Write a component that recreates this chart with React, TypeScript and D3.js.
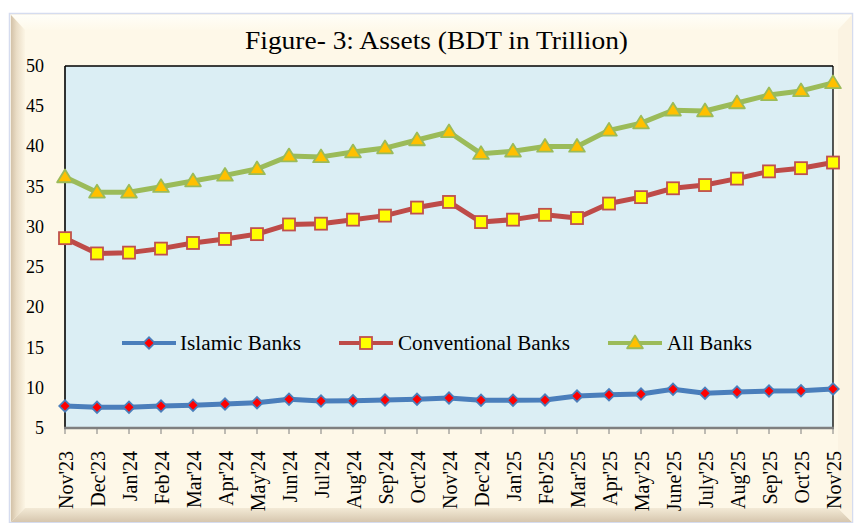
import React from "react";
import * as d3 from "d3";

const months = ["Nov'23","Dec'23","Jan'24","Feb'24","Mar'24","Apr'24","May'24","Jun'24","Jul'24","Aug'24","Sep'24","Oct'24","Nov'24","Dec'24","Jan'25","Feb'25","Mar'25","Apr'25","May'25","June'25","July'25","Aug'25","Sep'25","Oct'25","Nov'25"];
const islamic = [7.73,7.57,7.57,7.73,7.82,7.98,8.15,8.57,8.36,8.39,8.48,8.57,8.73,8.44,8.44,8.48,8.98,9.14,9.23,9.81,9.31,9.48,9.6,9.64,9.85];
const conventional = [28.6,26.7,26.8,27.3,28.0,28.5,29.1,30.3,30.4,30.9,31.4,32.4,33.1,30.6,30.9,31.5,31.1,32.9,33.7,34.8,35.2,36.0,36.9,37.3,38.0];
const allBanks = [36.2,34.3,34.3,35.0,35.7,36.4,37.2,38.8,38.7,39.3,39.8,40.8,41.8,39.1,39.4,40.0,40.0,42.0,42.9,44.5,44.4,45.4,46.4,46.9,47.9];
const yTicks = [5,10,15,20,25,30,35,40,45,50];
const title = "Figure- 3: Assets (BDT in Trillion)";
const seriesNames = ["Islamic Banks","Conventional Banks","All Banks"];

const W = 854, H = 523;
const L = 65, R = 833, T = 66, B = 428;
const FONT = "'Liberation Serif', 'Times New Roman', serif";

export default function App() {
  const x = d3.scalePoint<string>().domain(months).range([L, R]);
  const y = d3.scaleLinear().domain([5, 50]).range([B, T]);
  const line = d3.line<number>().x((_, i) => x(months[i]) as number).y(d => y(d));

  const diamond = (cx: number, cy: number, r: number) =>
    `M${cx},${cy - r}L${cx + r},${cy}L${cx},${cy + r}L${cx - r},${cy}Z`;
  const tri = (cx: number, cy: number, r: number) =>
    `M${cx},${cy - r}L${cx + r * 1.05},${cy + r * 0.7}L${cx - r * 1.05},${cy + r * 0.7}Z`;

  const legend = [
    { name: seriesNames[0], x0: 122, w: 54, tx: 180, tl: 121, color: "#4A7EBB", kind: "d" },
    { name: seriesNames[1], x0: 339, w: 54, tx: 398, tl: 172, color: "#BE4B48", kind: "s" },
    { name: seriesNames[2], x0: 608, w: 54, tx: 667, tl: 85, color: "#9BBB59", kind: "t" },
  ];
  const ly = 343;

  const marker = (kind: string, cx: number, cy: number, key: any) => {
    if (kind === "d") {
      return (
        <g key={key}>
          <path d={diamond(cx, cy, 7)} fill="#4A7EBB" />
          <path d={diamond(cx, cy, 4.5)} fill="#FF0000" />
        </g>
      );
    }
    if (kind === "s") {
      const s = 12;
      return <rect key={key} x={cx - s / 2} y={cy - s / 2} width={s} height={s} fill="#FFFF00" stroke="#C0504D" strokeWidth={1.8} />;
    }
    return <path key={key} d={tri(cx, cy, 7.5)} fill="#FFC000" stroke="#9BBB59" strokeWidth={1.8} strokeLinejoin="round" />;
  };

  return (
    <div style={{ position: "fixed", left: 0, top: 0 }}>
      <svg width={W} height={H} viewBox={`0 0 ${W} ${H}`} style={{ display: "block", background: "#fff" }}>
        <defs>
          <linearGradient id="gl" x1="0" y1="0" x2="1" y2="0">
            <stop offset="0" stopColor="#D3C2A8" />
            <stop offset="0.4" stopColor="#EADDC6" />
            <stop offset="1" stopColor="#FCF5E4" />
          </linearGradient>
          <linearGradient id="gb" x1="0" y1="0" x2="0" y2="1">
            <stop offset="0" stopColor="#F3EAD6" />
            <stop offset="1" stopColor="#D6C6AE" />
          </linearGradient>
          <linearGradient id="gt" x1="0" y1="0" x2="0" y2="1">
            <stop offset="0" stopColor="#FFFEF8" />
            <stop offset="1" stopColor="#FEF9EA" />
          </linearGradient>
        </defs>
        {/* frame */}
        <rect x={9.5} y={13.5} width={843} height={509} fill="#FEF8E8" stroke="#D5DCEF" strokeWidth={1.5} />
        <path d={`M11,15L852,15L838,30L25,30Z`} fill="url(#gt)" />
        <path d={`M11,15L25,30L25,508L11,522Z`} fill="url(#gl)" />
        <path d={`M11,522L25,508L838,508L852,522Z`} fill="url(#gb)" />
        <path d={`M852,15L852,522L838,508L838,30Z`} fill="#FBF3E2" />
        <rect x={25} y={30} width={813} height={478} fill="#FEF8E8" />

        {/* title */}
        <text x={245} y={48.5} textLength={383} lengthAdjust="spacingAndGlyphs" fontFamily={FONT} fontSize={25.5} fill="#000">{title}</text>

        {/* plot area */}
        <rect x={L} y={T} width={R - L} height={B - T} fill="#DBEEF4" />
        <line x1={L} y1={T} x2={R} y2={T} stroke="#000" strokeWidth={1.3} />
        <line x1={R} y1={T} x2={R} y2={B} stroke="#000" strokeWidth={1.3} />
        <line x1={L} y1={T} x2={L} y2={B} stroke="#000" strokeWidth={1.6} />
        <line x1={L - 1} y1={B} x2={R + 1} y2={B} stroke="#7F7F7F" strokeWidth={2.5} />
        {months.map(m => (
          <line key={m} x1={x(m)} x2={x(m)} y1={B} y2={B + 6} stroke="#7F7F7F" strokeWidth={1} />
        ))}

        {/* y ticks */}
        {yTicks.map(t => (
          <text key={t} x={44} y={y(t) + 6} textAnchor="end" fontFamily={FONT} fontSize={18} fill="#000">{t}</text>
        ))}
        {/* x labels */}
        {months.map(m => (
          <text key={m} transform={`translate(${(x(m) as number) + 7.5},${451}) rotate(-90)`} textAnchor="end"
            fontFamily={FONT} fontSize={20} fill="#000">{m}</text>
        ))}

        {/* series */}
        <path d={line(allBanks) || ""} fill="none" stroke="#9BBB59" strokeWidth={5} strokeLinejoin="round" />
        <path d={line(conventional) || ""} fill="none" stroke="#BE4B48" strokeWidth={5} strokeLinejoin="round" />
        <path d={line(islamic) || ""} fill="none" stroke="#4A7EBB" strokeWidth={5} strokeLinejoin="round" />
        {allBanks.map((v, i) => marker("t", x(months[i]) as number, y(v), "a" + i))}
        {conventional.map((v, i) => marker("s", x(months[i]) as number, y(v), "c" + i))}
        {islamic.map((v, i) => marker("d", x(months[i]) as number, y(v), "i" + i))}

        {/* legend */}
        {legend.map(l => (
          <g key={l.name}>
            <line x1={l.x0} x2={l.x0 + l.w} y1={ly} y2={ly} stroke={l.color} strokeWidth={4} />
            {marker(l.kind, l.x0 + l.w / 2, ly, "m")}
            <text x={l.tx} y={ly + 7} textLength={l.tl} lengthAdjust="spacingAndGlyphs" fontFamily={FONT} fontSize={20.5} fill="#000">{l.name}</text>
          </g>
        ))}
      </svg>
    </div>
  );
}
